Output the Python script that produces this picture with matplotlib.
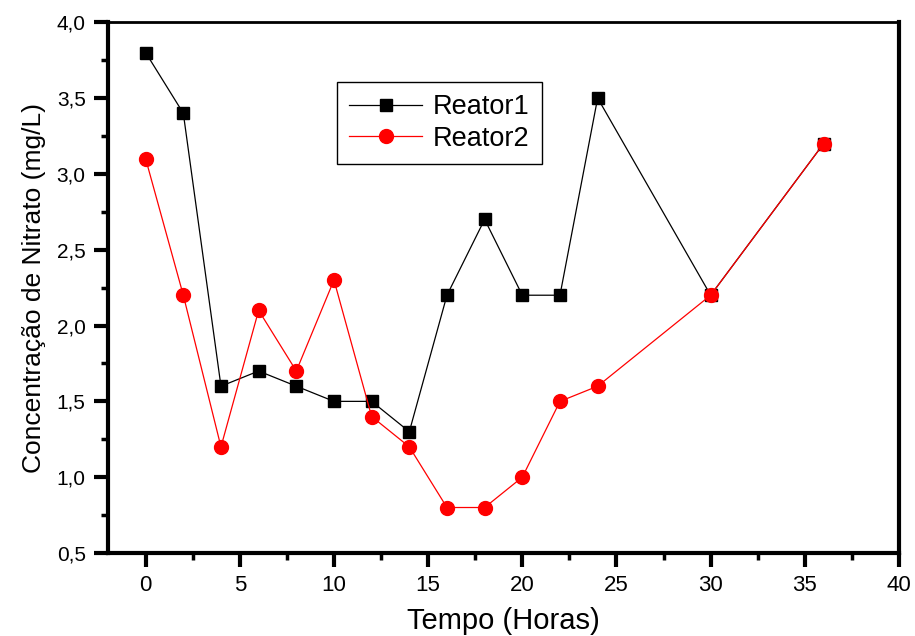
import matplotlib.pyplot as plt
from matplotlib.ticker import FuncFormatter, MultipleLocator

tempo = [0, 2, 4, 6, 8, 10, 12, 14, 16, 18, 20, 22, 24, 30, 36]
reator1 = [3.8, 3.4, 1.6, 1.7, 1.6, 1.5, 1.5, 1.3, 2.2, 2.7, 2.2, 2.2, 3.5, 2.2, 3.2]
reator2 = [3.1, 2.2, 1.2, 2.1, 1.7, 2.3, 1.4, 1.2, 0.8, 0.8, 1.0, 1.5, 1.6, 2.2, 3.2]

plt.rcParams['font.family'] = ['Liberation Sans', 'DejaVu Sans']

fig = plt.figure(figsize=(9.15, 6.36), dpi=100)
ax = fig.add_axes([0.118, 0.1305, 0.8645, 0.8345])

ax.plot(tempo, reator1, color='black', lw=0.9, marker='s', markersize=9,
        markerfacecolor='black', markeredgecolor='black', label='Reator1')
ax.plot(tempo, reator2, color='red', lw=0.9, marker='o', markersize=10,
        markerfacecolor='red', markeredgecolor='red', label='Reator2')

ax.set_xlim(-2, 40)
ax.set_ylim(0.5, 4.0)
ax.xaxis.set_major_locator(MultipleLocator(5))
ax.xaxis.set_minor_locator(MultipleLocator(2.5))
ax.yaxis.set_major_locator(MultipleLocator(0.5))
ax.yaxis.set_minor_locator(MultipleLocator(0.25))
ax.yaxis.set_major_formatter(FuncFormatter(lambda v, p: f"{v:.1f}".replace('.', ',')))

for side in ['left', 'bottom', 'right']:
    ax.spines[side].set_linewidth(3)
ax.spines['top'].set_linewidth(2)

ax.tick_params(which='major', direction='out', length=10, width=3, labelsize=15, pad=6)
ax.tick_params(axis='x', which='major', labelsize=16)
ax.tick_params(which='minor', direction='out', length=5, width=2.5)
ax.tick_params(top=False, right=False, which='both')

ax.set_xlabel('Tempo (Horas)', fontsize=21, labelpad=8)
ax.set_ylabel('Concentração de Nitrato (mg/L)', fontsize=19, labelpad=8)

leg = ax.legend(loc='upper left', bbox_to_anchor=(0.2895, 0.887), fontsize=19.5,
                fancybox=False, edgecolor='black', framealpha=1,
                handlelength=2.7, handletextpad=0.4, borderpad=0.45,
                borderaxespad=0, labelspacing=0.2)
leg.get_frame().set_linewidth(1)

plt.savefig('out.png', dpi=100)
